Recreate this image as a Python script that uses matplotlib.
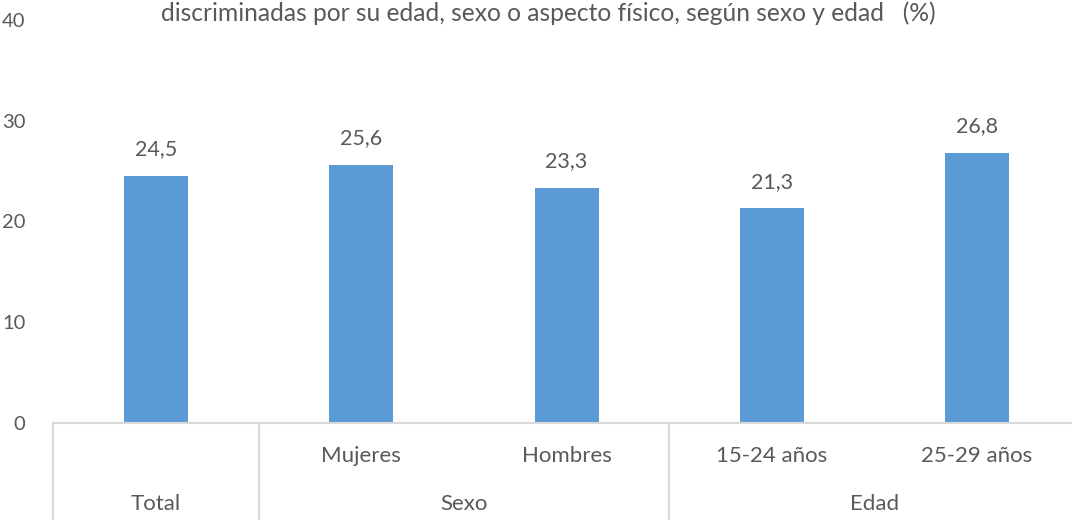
import matplotlib
matplotlib.use("Agg")
import matplotlib.pyplot as plt
import matplotlib.transforms as mtransforms

categories = ["", "Mujeres", "Hombres", "15-24 años", "25-29 años"]
groups = ["Total", "Sexo", "Edad"]
group_spans = [(0, 0), (1, 2), (3, 4)]
values = [24.5, 25.6, 23.3, 21.3, 26.8]
value_labels = ["24,5", "25,6", "23,3", "21,3", "26,8"]
yticks = [0, 10, 20, 30, 40]
title = "discriminadas por su edad, sexo o aspecto físico, según sexo y edad   (%)"

plt.rcParams['font.family'] = ['Lato', 'DejaVu Sans']
txt = "#595959"
grid = "#D9D9D9"
bar_color = "#5B9BD5"

W, H = 1072, 520
fig = plt.figure(figsize=(W / 100, H / 100), dpi=100)
ax_left, ax_w = 53.4, 1026.3
ax = fig.add_axes([ax_left / W, (H - 423) / H, ax_w / W, (423 - 20) / H])

x = list(range(len(values)))
ax.bar(x, values, width=0.312, color=bar_color, zorder=2)
for xi, v, lab in zip(x, values, value_labels):
    ax.annotate(lab, (xi, v), xytext=(0, 12), textcoords="offset points",
                ha="center", va="bottom", fontsize=15.5, color=txt)

ax.set_xlim(-0.5, len(values) - 0.5)
ax.set_ylim(0, 40)
ax.set_yticks(yticks)
ax.set_yticklabels([str(t) for t in yticks], fontsize=14.5, color=txt)
ax.tick_params(axis="y", length=0, pad=20)
ax.set_xticks([])
for s in ["left", "right", "top"]:
    ax.spines[s].set_visible(False)
ax.spines["bottom"].set_color(grid)
ax.spines["bottom"].set_linewidth(1.5)

trans = mtransforms.blended_transform_factory(ax.transData, ax.transAxes)
def yfrac(px_below):
    return -px_below / (423 - 20)

for xi, c in zip(x, categories):
    ax.text(xi, yfrac(33), c, transform=trans, ha="center", va="center",
            fontsize=16, color=txt)
for g, (a, b) in zip(groups, group_spans):
    ax.text((a + b) / 2, yfrac(81), g, transform=trans, ha="center", va="center",
            fontsize=16, color=txt)
for sx in [-0.5, 0.5, 2.5]:
    ax.plot([sx, sx], [0, yfrac(110)], transform=trans, color=grid, lw=1.5,
            clip_on=False)

fig.text(548 / W, 1 - 13 / H, title, ha="center", va="center", fontsize=17.7, color=txt)

fig.savefig("out.png", dpi=100)
